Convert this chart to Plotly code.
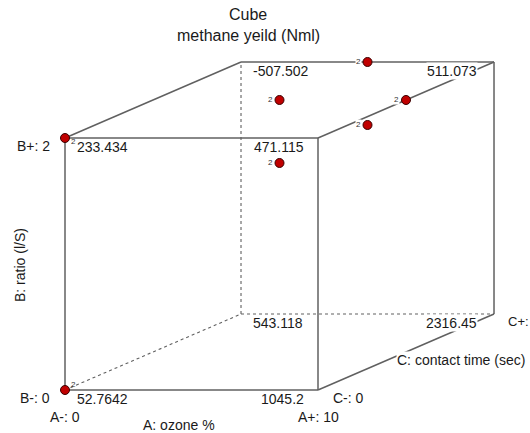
import plotly.graph_objects as go

# ---------------- data ----------------
title_lines = ["Cube", "methane yeild (Nml)"]
factor_names = ["A: ozone %", "B: ratio (l/S)", "C: contact time (sec)"]
A_levels = ["A-: 0", "A+: 10"]
B_levels = ["B-: 0", "B+: 2"]
C_levels = ["C-: 0", "C+:"]

# cube corners in coded units
corner_a = [-1, 1, -1, 1, -1, 1, -1, 1]
corner_b = [-1, -1, 1, 1, -1, -1, 1, 1]
corner_c = [-1, -1, -1, -1, 1, 1, 1, 1]
corner_values = ["52.7642", "1045.2", "233.434", "471.115",
                 "543.118", "2316.45", "-507.502", "511.073"]

# design points (coded units) and replicate counts
point_a = [-1, -1, 0, 0, 1, 0, 0]
point_b = [1, -1, 1, 1, 1, 0.5, 0.5]
point_c = [-1, -1, 1, 0, 0, 1, 0]
point_reps = [2, 2, 2, 2, 2, 2, 2]

# cube edges (corner index pairs)
solid_edges = [(0, 1), (0, 2), (1, 3), (2, 3), (6, 7), (2, 6), (3, 7), (5, 7), (1, 5)]
dotted_edges = [(4, 6), (4, 5), (0, 4)]

# ---------------- projection (oblique) ----------------
KX = 0.6957
KY = 0.3016


def proj(a, b, c):
    return a + KX * (c + 1), b + KY * (c + 1)


FONT = "Liberation Sans, Arial, sans-serif"
LINE_COLOR = "#606060"
TEXT_COLOR = "#1a1a1a"

fig = go.Figure()


def add_edges(edges, dash, width):
    xs, ys = [], []
    for i, j in edges:
        x0, y0 = proj(corner_a[i], corner_b[i], corner_c[i])
        x1, y1 = proj(corner_a[j], corner_b[j], corner_c[j])
        xs += [x0, x1, None]
        ys += [y0, y1, None]
    fig.add_trace(go.Scatter(x=xs, y=ys, mode="lines",
                             line=dict(color=LINE_COLOR, width=width, dash=dash),
                             hoverinfo="skip"))


add_edges(dotted_edges, "dot", 1.1)
add_edges(solid_edges, "solid", 1.5)

annotations = []

# corner value labels
for a, b, c, v in zip(corner_a, corner_b, corner_c, corner_values):
    x, y = proj(a, b, c)
    if a < 0:
        xa, xs = "left", 11
    else:
        xa, xs = "right", (-13 if c < 0 else -16)
    annotations.append(dict(x=x, y=y, xref="x", yref="y", text=v, showarrow=False,
                            xanchor=xa, yanchor="middle", xshift=xs, yshift=-9,
                            font=dict(size=14, color=TEXT_COLOR, family=FONT),
                            bgcolor="white" if a > 0 and c > 0 else None, borderpad=0))

# design points
px, py = [], []
for a, b, c in zip(point_a, point_b, point_c):
    x, y = proj(a, b, c)
    px.append(x)
    py.append(y)
fig.add_trace(go.Scatter(x=px, y=py, mode="markers",
                         marker=dict(size=9, color="#c00000",
                                     line=dict(color="#3a0000", width=1)),
                         hoverinfo="skip"))

# replicate count labels
for a, b, c, n, x, y in zip(point_a, point_b, point_c, point_reps, px, py):
    if a < 0:
        xs, ys, xa = 5, (-3 if b > 0 else 6), "left"
    else:
        xs, ys, xa = -6, 0, "right"
    annotations.append(dict(x=x, y=y, xref="x", yref="y", text=str(n), showarrow=False,
                            xanchor=xa, yanchor="middle", xshift=xs, yshift=ys,
                            font=dict(size=8, color="#333333", family=FONT),
                            bgcolor="white" if a >= 0 else None, borderpad=0))

# factor level labels
lx, ly = proj(-1, -1, -1)
annotations.append(dict(x=lx, y=ly, text=A_levels[0], xanchor="center", yanchor="middle",
                        xshift=0, yshift=-27))
lx, ly = proj(1, -1, -1)
annotations.append(dict(x=lx, y=ly, text=A_levels[1], xanchor="center", yanchor="middle",
                        xshift=0, yshift=-27))
lx, ly = proj(-1, -1, -1)
annotations.append(dict(x=lx, y=ly, text=B_levels[0], xanchor="right", yanchor="middle",
                        xshift=-13, yshift=-8))
lx, ly = proj(-1, 1, -1)
annotations.append(dict(x=lx, y=ly, text=B_levels[1], xanchor="right", yanchor="middle",
                        xshift=-13, yshift=-8))
lx, ly = proj(1, -1, -1)
annotations.append(dict(x=lx, y=ly, text=C_levels[0], xanchor="left", yanchor="middle",
                        xshift=13, yshift=-8))
lx, ly = proj(1, -1, 1)
annotations.append(dict(x=lx, y=ly, text=C_levels[1], xanchor="left", yanchor="middle",
                        xshift=12, yshift=-8))

# factor names
lx, ly = proj(0, -1, -1)
annotations.append(dict(x=lx, y=ly, text=factor_names[0], xanchor="center", yanchor="middle",
                        xshift=-13, yshift=-35))
lx, ly = proj(-1, 0, -1)
annotations.append(dict(x=lx, y=ly, text=factor_names[1], xanchor="center", yanchor="middle",
                        xshift=-45, yshift=-1, textangle=-90))
lx, ly = proj(1, -1, 0)
annotations.append(dict(x=lx, y=ly, text=factor_names[2], xanchor="left", yanchor="middle",
                        xshift=-10, yshift=-8.5, bgcolor="white", borderpad=0))

for ann in annotations[-9:]:
    ann.update(xref="x", yref="y", showarrow=False,
               font=dict(size=14, color=TEXT_COLOR, family=FONT))
# the right-edge level label is slightly smaller so it stays inside the frame
annotations[-4]["font"] = dict(size=13, color=TEXT_COLOR, family=FONT)

# title
annotations.append(dict(x=248 / 530, y=1 - 15 / 433, xref="paper", yref="paper",
                        text=title_lines[0], showarrow=False, xanchor="center", yanchor="middle",
                        font=dict(size=16, color=TEXT_COLOR, family=FONT)))
annotations.append(dict(x=248 / 530, y=1 - 36 / 433, xref="paper", yref="paper",
                        text=title_lines[1], showarrow=False, xanchor="center", yanchor="middle",
                        font=dict(size=16, color=TEXT_COLOR, family=FONT)))

fig.update_layout(
    width=530, height=433, autosize=False,
    margin=dict(l=0, r=0, t=0, b=0),
    paper_bgcolor="white", plot_bgcolor="white",
    showlegend=False,
    xaxis=dict(range=[-1.5138, 2.6759], visible=False, fixedrange=True),
    yaxis=dict(range=[-1.3413, 2.0952], visible=False, fixedrange=True),
    annotations=annotations,
)

fig.write_html("out.html")
